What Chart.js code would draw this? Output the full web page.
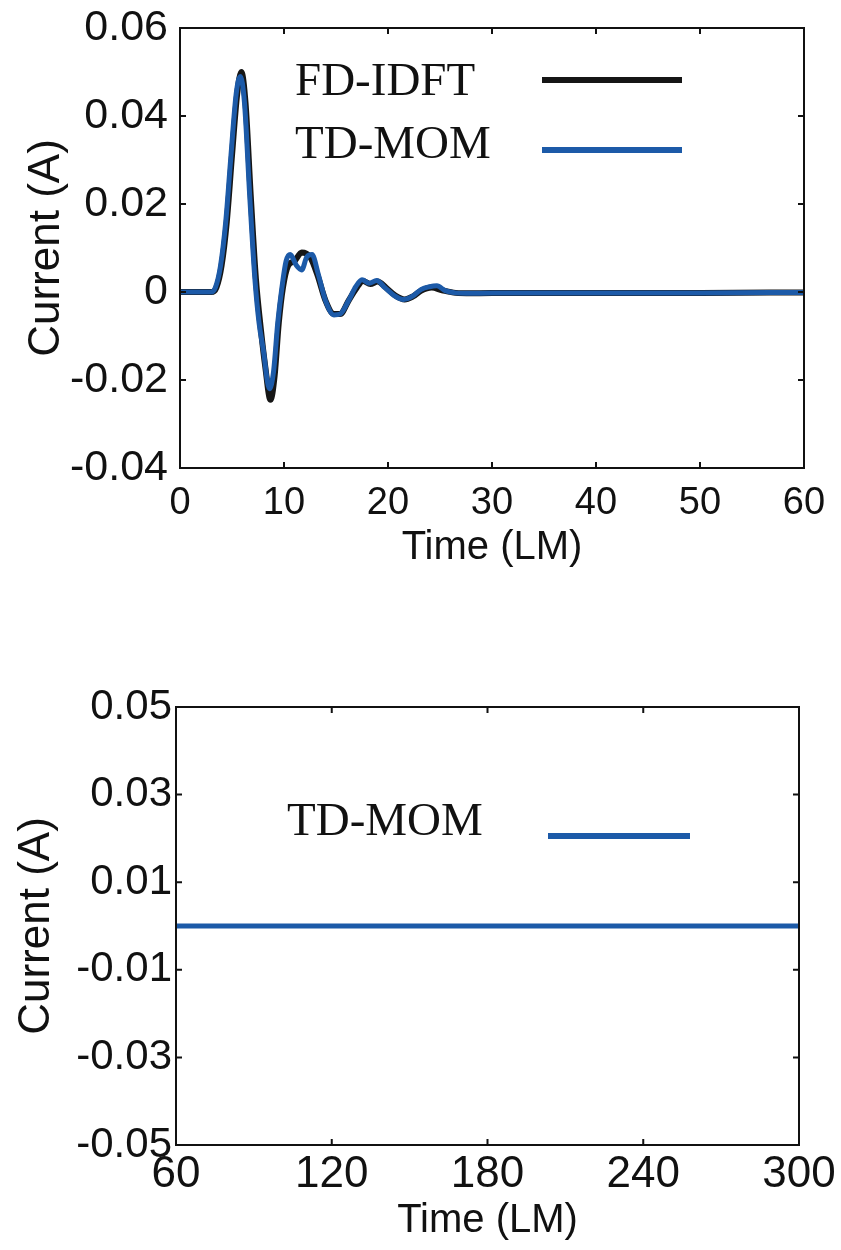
<!DOCTYPE html>
<html>
<head>
<meta charset="utf-8">
<script src="https://cdn.jsdelivr.net/npm/chart.js@4.4.1/dist/chart.umd.min.js"></script>
<style>
  body { margin: 0; background: #fff; }
  canvas { display: block; }
</style>
</head>
<body>
<canvas id="topChart" width="841" height="620"></canvas>
<canvas id="bottomChart" width="841" height="630"></canvas>
<script>
// values (time in LM, current in A)
const fdTime = [0, 3, 3.5, 4, 4.5, 5, 5.5, 5.9, 6.3, 6.8, 7.3, 7.8, 8.2, 8.7, 9.1, 9.5, 9.9, 10.4, 11, 11.7, 12.5, 13.2, 14, 14.8, 15.4, 16.2, 17, 17.6, 18.3, 19, 19.8, 20.7, 21.6, 22.4, 23.2, 24.2, 25.2, 26.5, 28, 32, 40, 50, 60];
const fdCurrent = [0, 0, 0.001, 0.006, 0.016, 0.031, 0.045, 0.05, 0.043, 0.022, 0.003, -0.009, -0.017, -0.0245, -0.019, -0.007, 0.001, 0.006, 0.007, 0.009, 0.008, 0.004, -0.002, -0.005, -0.005, -0.002, 0.001, 0.0025, 0.0018, 0.0024, 0.001, -0.0008, -0.0017, -0.001, 0.0003, 0.001, 0.0004, -0.0002, -0.0003, -0.0002, -0.0002, -0.0002, -0.0001];

const tdTime = [0, 3, 3.4, 3.9, 4.4, 4.9, 5.4, 5.8, 6.2, 6.7, 7.2, 7.6, 8, 8.6, 9, 9.4, 9.8, 10.2, 10.6, 11.2, 11.7, 12.2, 12.7, 13.3, 14, 14.8, 15.4, 16.2, 16.9, 17.5, 18.2, 18.9, 19.7, 20.6, 21.5, 22.4, 23.2, 24, 24.7, 25.5, 26.5, 28, 32, 40, 50, 60];
const tdCurrent = [0, 0, 0.001, 0.006, 0.016, 0.031, 0.045, 0.049, 0.043, 0.022, 0.003, -0.007, -0.013, -0.022, -0.018, -0.007, 0.001, 0.007, 0.0085, 0.006, 0.005, 0.008, 0.0085, 0.004, -0.002, -0.0052, -0.005, -0.002, 0.0012, 0.0028, 0.002, 0.0026, 0.001, -0.0008, -0.0017, -0.0009, 0.0006, 0.0012, 0.0014, 0.0003, -0.0002, -0.0003, -0.0002, -0.0002, -0.0002, -0.0001];

const lateTime = [60, 90, 120, 150, 180, 210, 240, 270, 300];
const lateCurrent = [0, 0, 0, 0, 0, 0, 0, 0, 0];

// tick values and labels
const topXTicks = [0, 10, 20, 30, 40, 50, 60];
const topYTicks = [-0.04, -0.02, 0, 0.02, 0.04, 0.06];
const topYLabels = ['-0.04', '-0.02', '0', '0.02', '0.04', '0.06'];
const bottomXTicks = [60, 120, 180, 240, 300];
const bottomYTicks = [-0.05, -0.04, -0.03, -0.02, -0.01, 0, 0.01, 0.02, 0.03, 0.04, 0.05];
const bottomYLabels = ['-0.05', '', '-0.03', '', '-0.01', '', '0.01', '', '0.03', '', '0.05'];

const BLACK = '#161616';
const BLUE = '#1c5aa8';
const SANS = "'Liberation Sans', Arial, sans-serif";
const SERIF = "'Liberation Serif', 'Times New Roman', serif";

function pts(xs, ys) {
    return xs.map((x, i) => ({ x: x, y: ys[i] }));
}

function setTicks(values) {
    return function (scale) {
        scale.ticks = values.map(v => ({ value: v }));
    };
}

// fixed axis sizes so the plot box lands where it is in the figure
function fixWidth(w) {
    return function (s) {
        s.width = w;
        s.paddingTop = 0;
        s.paddingBottom = 0;
    };
}
function fixHeight(h) {
    return function (s) {
        s.height = h;
        s.paddingLeft = 0;
        s.paddingRight = 0;
    };
}

// box around the plot, inward tick marks and the text legend
const framePlugin = {
    id: 'frame',
    afterDraw(chart, args, opts) {
        const ctx = chart.ctx;
        const a = chart.chartArea;
        const x = chart.scales.x;
        const y = chart.scales.y;
        const len = 6;
        ctx.save();
        ctx.strokeStyle = '#111';
        ctx.lineWidth = 2;
        ctx.strokeRect(a.left, a.top, a.right - a.left, a.bottom - a.top);
        ctx.beginPath();
        x.ticks.forEach(t => {
            const px = x.getPixelForValue(t.value);
            ctx.moveTo(px, a.bottom); ctx.lineTo(px, a.bottom - len);
            ctx.moveTo(px, a.top); ctx.lineTo(px, a.top + len);
        });
        y.ticks.forEach(t => {
            const py = y.getPixelForValue(t.value);
            ctx.moveTo(a.left, py); ctx.lineTo(a.left + len, py);
            ctx.moveTo(a.right, py); ctx.lineTo(a.right - len, py);
        });
        ctx.stroke();

        (opts.items || []).forEach(item => {
            const ds = chart.data.datasets[item.dataset];
            ctx.font = '47px ' + SERIF;
            ctx.fillStyle = '#111';
            ctx.textAlign = 'left';
            ctx.textBaseline = 'alphabetic';
            ctx.fillText(ds.label, item.textX, item.textY);
            ctx.strokeStyle = ds.borderColor;
            ctx.lineWidth = 6;
            ctx.beginPath();
            ctx.moveTo(item.x1, item.lineY);
            ctx.lineTo(item.x2, item.lineY);
            ctx.stroke();
        });
        ctx.restore();
    }
};

const lineStyle = {
    pointRadius: 0,
    cubicInterpolationMode: 'monotone',
    borderJoinStyle: 'round',
    borderCapStyle: 'round'
};

// top chart: 0 - 60 LM
new Chart(document.getElementById('topChart'), {
    type: 'line',
    data: {
        datasets: [
            Object.assign({ label: 'TD-MOM', data: pts(tdTime, tdCurrent), borderColor: BLUE, borderWidth: 5, order: 0 }, lineStyle),
            Object.assign({ label: 'FD-IDFT', data: pts(fdTime, fdCurrent), borderColor: BLACK, borderWidth: 6, order: 1 }, lineStyle)
        ]
    },
    options: {
        responsive: false,
        animation: false,
        layout: { padding: { left: 0, right: 37, top: 28, bottom: 0 } },
        scales: {
            x: {
                type: 'linear',
                min: 0,
                max: 60,
                afterBuildTicks: setTicks(topXTicks),
                afterFit: fixHeight(152),
                grid: { display: false, drawTicks: false },
                border: { display: false },
                ticks: { color: '#111', padding: 13, maxRotation: 0, font: { family: SANS, size: 38 } },
                title: { display: true, text: 'Time (LM)', color: '#111', padding: { top: 0, bottom: 48 }, font: { family: SANS, size: 40 } }
            },
            y: {
                type: 'linear',
                min: -0.04,
                max: 0.06,
                afterBuildTicks: setTicks(topYTicks),
                afterFit: fixWidth(180),
                grid: { display: false, drawTicks: false },
                border: { display: false },
                ticks: {
                    color: '#111',
                    padding: 12,
                    font: { family: SANS, size: 43 },
                    callback: (v, i) => topYLabels[i]
                },
                title: { display: true, text: 'Current (A)', color: '#111', padding: { top: 20, bottom: 0 }, font: { family: SANS, size: 44 } }
            }
        },
        plugins: {
            legend: { display: false },
            tooltip: { enabled: false },
            frame: {
                items: [
                    { dataset: 1, textX: 295, textY: 95, x1: 542, x2: 682, lineY: 80 },
                    { dataset: 0, textX: 295, textY: 158, x1: 542, x2: 682, lineY: 150 }
                ]
            }
        }
    },
    plugins: [framePlugin]
});

// bottom chart: 60 - 300 LM
new Chart(document.getElementById('bottomChart'), {
    type: 'line',
    data: {
        datasets: [
            Object.assign({ label: 'TD-MOM', data: pts(lateTime, lateCurrent), borderColor: BLUE, borderWidth: 5 }, lineStyle)
        ]
    },
    options: {
        responsive: false,
        animation: false,
        layout: { padding: { left: 0, right: 42, top: 87, bottom: 0 } },
        scales: {
            x: {
                type: 'linear',
                min: 60,
                max: 300,
                afterBuildTicks: setTicks(bottomXTicks),
                afterFit: fixHeight(105),
                grid: { display: false, drawTicks: false },
                border: { display: false },
                ticks: { color: '#111', padding: 3, maxRotation: 0, font: { family: SANS, size: 44 } },
                title: { display: true, text: 'Time (LM)', color: '#111', padding: { top: 0, bottom: 5 }, font: { family: SANS, size: 40 } }
            },
            y: {
                type: 'linear',
                min: -0.05,
                max: 0.05,
                afterBuildTicks: setTicks(bottomYTicks),
                afterFit: fixWidth(176),
                grid: { display: false, drawTicks: false },
                border: { display: false },
                ticks: {
                    color: '#111',
                    padding: 4,
                    font: { family: SANS, size: 42 },
                    callback: (v, i) => bottomYLabels[i]
                },
                title: { display: true, text: 'Current (A)', color: '#111', padding: { top: 10, bottom: 0 }, font: { family: SANS, size: 44 } }
            }
        },
        plugins: {
            legend: { display: false },
            tooltip: { enabled: false },
            frame: {
                items: [
                    { dataset: 0, textX: 287, textY: 215, x1: 548, x2: 690, lineY: 216 }
                ]
            }
        }
    },
    plugins: [framePlugin]
});
</script>
</body>
</html>
